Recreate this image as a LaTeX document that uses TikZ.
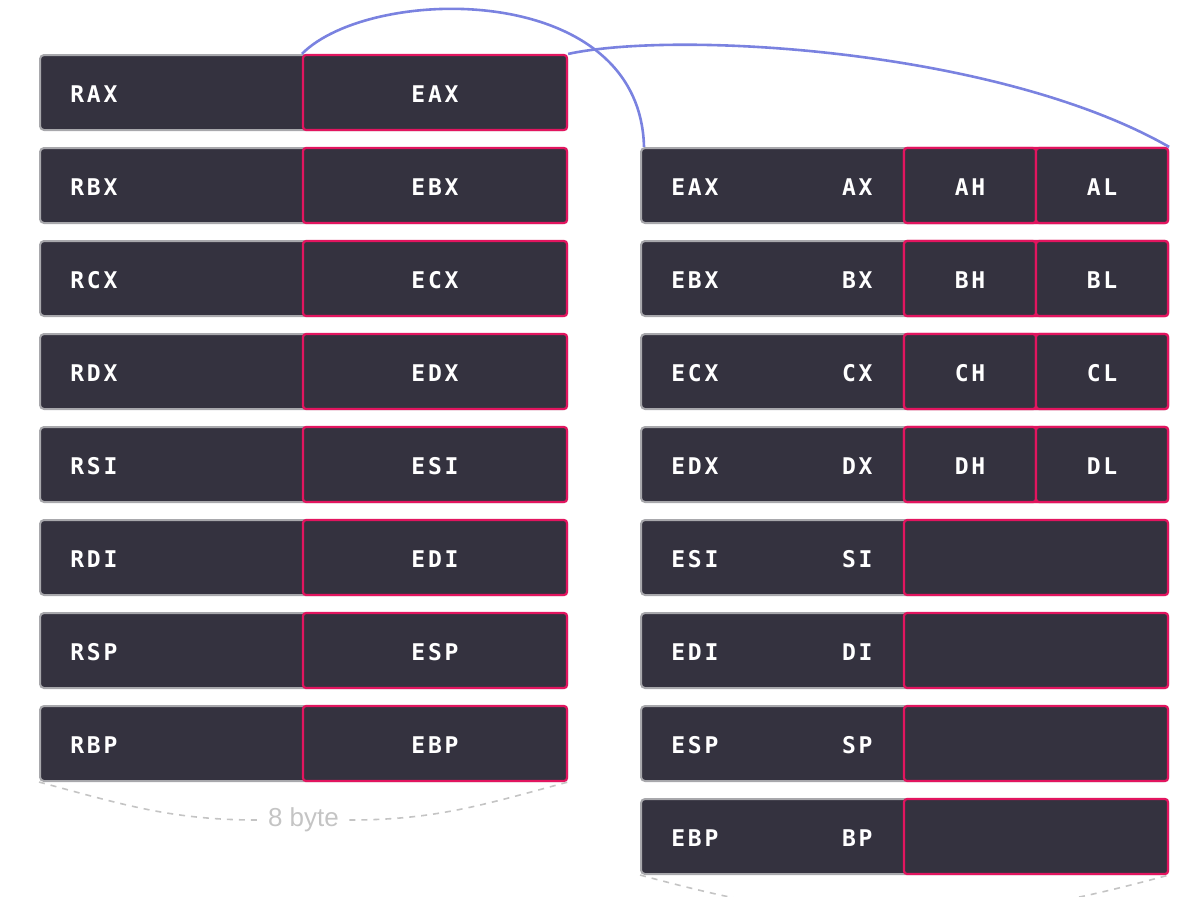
\documentclass[tikz,border=0pt]{standalone}
\usepackage{fontspec}
\setmonofont{DejaVu Sans Mono}[LetterSpace=12]
\setsansfont{Liberation Sans}
\usepackage{tikz}

\definecolor{regfill}{HTML}{34323F}
\definecolor{regpink}{HTML}{E2155F}
\definecolor{regedge}{HTML}{A8A8AC}
\definecolor{linkblue}{HTML}{7A82E0}
\definecolor{bytegray}{HTML}{C4C4C4}

\tikzset{
    regbox/.style={draw=regedge, fill=regfill, line width=1pt, rounded corners=2pt,
        minimum width=263.5pt, minimum height=37.5pt, inner sep=0pt},
    halfbox/.style={draw=regpink, fill=regfill, line width=1.1pt, rounded corners=1.5pt,
        minimum width=132pt, minimum height=37.5pt, inner sep=0pt,
        text=white, text height=10.4pt, text depth=0pt,
        font=\ttfamily\bfseries\fontsize{11.5}{12}\selectfont},
    quartbox/.style={halfbox, minimum width=66pt},
    reglbl/.style={text=white, inner sep=0pt, text height=10.4pt, text depth=0pt,
        font=\ttfamily\bfseries\fontsize{11.5}{12}\selectfont},
    link/.style={draw=linkblue, line width=1.3pt},
    span/.style={draw=bytegray, dashed, line width=0.8pt},
}

\begin{document}
\begin{tikzpicture}[x=0.5pt, y=0.5pt]
        \clip (0,0) rectangle (1202,-896);
        
        % 64 bit registers, lower half in pink
        \foreach \rr/\ee [count=\i] in {RAX/EAX,RBX/EBX,RCX/ECX,RDX/EDX,RSI/ESI,RDI/EDI,RSP/ESP,RBP/EBP} {
            \pgfmathsetmacro\yy{-92.5-93*(\i-1)}
            \node[regbox] (l\i) at (303.5,\yy) {};
            \node[halfbox] (le\i) at (435,\yy) {\ee};
            \node[reglbl, anchor=west] (lr\i) at (70,\yy) {\rr};
        }
        
        % 32 bit registers
        \foreach \ee/\xx [count=\i] in {EAX/AX,EBX/BX,ECX/CX,EDX/DX,ESI/SI,EDI/DI,ESP/SP,EBP/BP} {
            \pgfmathsetmacro\yy{-185.5-93*(\i-1)}
            \node[regbox] (r\i) at (904.5,\yy) {};
            \node[halfbox] (rh\i) at (1036,\yy) {};
            \node[reglbl, anchor=west] (re\i) at (671,\yy) {\ee};
            \node[reglbl, anchor=east] (rx\i) at (873,\yy) {\xx};
        }
        
        % high and low bytes
        \foreach \hh/\ll [count=\i] in {AH/AL,BH/BL,CH/CL,DH/DL} {
            \pgfmathsetmacro\yy{-185.5-93*(\i-1)}
            \node[quartbox] (rhi\i) at (970,\yy) {\hh};
            \node[quartbox] (rlo\i) at (1102,\yy) {\ll};
        }
        
        \draw[link] (le1.north west) .. controls (370,15) and (640,20) .. ([xshift=2pt]r1.north west);
        \draw[link] (le1.north east) .. controls (680,-30) and (1000,-50) .. (rlo1.north east);
        
        \node[text=bytegray, font=\sffamily\fontsize{13}{14}\selectfont, inner xsep=5pt] (lbyte) at (303.5,-820) {8 byte};
        \draw[span] (l8.south west) to[out=-15, in=180] (lbyte.west);
        \draw[span] (lbyte.east) to[out=0, in=195] (l8.south east);
        
        \coordinate (rbyte) at (904.5,-914);
        \draw[span] (r8.south west) to[out=-15, in=180] (rbyte) to[out=0, in=195] (r8.south east);
    \end{tikzpicture}
\end{document}
